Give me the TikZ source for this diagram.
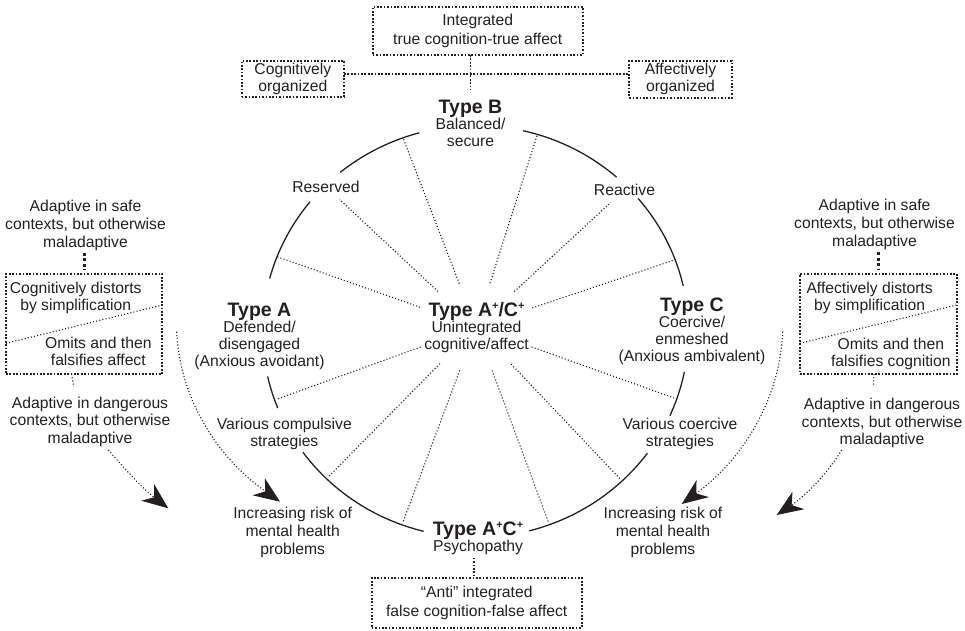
\documentclass[tikz,border=0pt]{standalone}
\usepackage{fontspec}
\setmainfont{Liberation Sans}
\usetikzlibrary{arrows.meta,shapes.geometric}
\definecolor{ink}{HTML}{231F20}
\newcommand\hdfont{\fontsize{19.5}{17}\selectfont\bfseries}
% small raised plus sign used in the type names
\newcommand\plussup{\raisebox{7.3pt}{\fontsize{11}{11}\selectfont +}}
% one piece of the outer ring (angles measured counter-clockwise, y pointing down)
\newcommand\ringarc[2]{\draw[ring] plot[domain=#1:#2, samples=48, variable=\t]
  ({475.5+213*cos(\t)},{331.5-206*sin(\t)});}
\begin{document}
\begin{tikzpicture}[x=1pt, y=-1pt,
  every node/.style={inner sep=0pt, outer sep=0pt, text=ink},
  lbl/.style={align=center, font=\fontsize{15.7}{17}\selectfont},
  dbox/.style={lbl, draw=ink, line width=1.7pt, dash pattern=on 1.7pt off 1.7pt},
  ring/.style={draw=ink, line width=1.3pt},
  spoke/.style={draw=ink, line width=1.1pt, dash pattern=on 1.1pt off 2.1pt},
  boxline/.style={draw=ink, line width=1.7pt, dash pattern=on 1.7pt off 1.7pt},
  heavydot/.style={draw=ink, line width=3pt, dash pattern=on 3pt off 2.6pt},
  dart/.style={-{Stealth[length=26pt, width=21pt, inset=8pt]}},
]
\useasboundingbox (0,0) rectangle (965,630);

% ---------- top: organisation boxes ----------
\node[dbox, minimum width=210, minimum height=48.3, font=\fontsize{15.7}{19.5}\selectfont]
  (integ) at (477.7,30.85) {Integrated\\true cognition-true affect};
\node[dbox, minimum width=102.3, minimum height=36] (cogorg) at (292.85,78.7) {Cognitively\\organized};
\node[dbox, minimum width=102.4, minimum height=37] (afforg) at (680.5,79.3) {Affectively\\organized};
\node[lbl, anchor=north] (typeB) at (470.5,100) {{\hdfont Type B}\\[-1pt]Balanced/\\secure};

\draw[boxline] ([yshift=4.7pt]cogorg.east) -- ([yshift=5.3pt]afforg.west);
\draw[boxline] (integ.south -| typeB.north) -- ([yshift=10pt]typeB.north);

% ---------- ring labels ----------
\node[lbl, inner sep=7pt] (reserved) at (326,186.7) {Reserved};
\node[lbl, inner sep=7pt] (reactive) at (624.5,189.7) {Reactive};
\node[lbl, anchor=north] (typeA) at (259.5,302.7)
  {{\hdfont Type A}\\[-1pt]Defended/\\disengaged\\(Anxious avoidant)};
\node[lbl, anchor=north] (typeC) at (692,298.3)
  {{\hdfont Type C}\\[-1pt]Coercive/\\enmeshed\\(Anxious ambivalent)};
\node[lbl, anchor=north] (mixed) at (476.5,302.7)
  {{\hdfont Type A\plussup/C\plussup}\\[-1pt]Unintegrated\\cognitive/affect};
\node[lbl, anchor=north] (compul) at (284.3,418.3) {Various compulsive\\strategies};
\node[lbl, anchor=north] (coerc) at (680,418.3) {Various coercive\\strategies};
\node[lbl, anchor=north, font=\fontsize{15.7}{18}\selectfont] (riskL) at (292.7,506.7)
  {Increasing risk of\\mental health\\problems};
\node[lbl, anchor=north, font=\fontsize{15.7}{18}\selectfont] (riskR) at (663,506.7)
  {Increasing risk of\\mental health\\problems};
\node[lbl, anchor=north] (typeAC) at (478,521.7)
  {{\hdfont Type A\plussup C\plussup}\\[-1pt]Psychopathy};

% ---------- ring ----------
\ringarc{105.3}{129.4}
\ringarc{141}{165.1}
\ringarc{192.6}{201.8}
\ringarc{215.9}{255.9}
\ringarc{284.6}{323.8}
\ringarc{335.9}{348.7}
\ringarc{12.8}{40.2}
\ringarc{48.5}{77.1}

% ---------- spokes from the centre ----------
\node[ellipse, minimum width=124, minimum height=90] (hub) at (476,327) {};
\foreach \ang/\nm/\f in {20.4/o1/1, 73.1/o2/1, 109.9/o3/1, 158.7/o4/1,
    -19.1/o5/0.985, -46.5/o6/0.985, -69.7/o7/0.985, -110.2/o8/0.985,
    -134.4/o9/0.985, -160.6/o10/0.985}
  \coordinate (\nm) at ({475.5+\f*213*cos(\ang)},{331.5-\f*206*sin(\ang)});
\foreach \nm in {o1,o2,o3,o4,o5,o6,o7,o8,o9,o10}
  \draw[spoke] (hub) -- (\nm);
\draw[spoke] (hub) -- (reserved);
\draw[spoke] (hub) -- (reactive);

% ---------- bottom box ----------
\node[dbox, minimum width=210, minimum height=49.7, font=\fontsize{15.7}{19.5}\selectfont]
  (anti) at (476.7,602.85) {“Anti” integrated\\false cognition-false affect};
\coordinate (acx) at ([xshift=-4pt,yshift=-3pt]typeAC.south);
\draw[boxline] (acx) -- (acx |- anti.north);

% ---------- left column ----------
\node[lbl, anchor=north, font=\fontsize{15.7}{18}\selectfont] (lsafe) at (85.5,200)
  {Adaptive in safe\\contexts, but otherwise\\maladaptive};
\node[dbox, minimum width=156.3, minimum height=100] (lbox) at (84.15,324) {};
\node[lbl, anchor=north] (lcog) at (75.7,281.7) {Cognitively distorts\\by simplification};
\node[lbl, anchor=north] (lomit) at (98.3,337.3) {Omits and then\\falsifies affect};
\node[lbl, anchor=north, font=\fontsize{15.7}{17.5}\selectfont] (ldanger) at (90,396.7)
  {Adaptive in dangerous\\contexts, but otherwise\\maladaptive};
\draw[heavydot, shorten <=2pt, shorten >=4.5pt] (lbox.north |- lsafe.south) -- (lbox.north);
\draw[spoke] ([yshift=-19.3pt]lbox.west) -- ([yshift=19pt]lbox.east);
\draw[spoke, shorten >=10pt] ([xshift=-12.5pt]lbox.south) -- ([xshift=-15pt]ldanger.north);

% ---------- right column ----------
\node[lbl, anchor=north, font=\fontsize{15.7}{18}\selectfont] (rsafe) at (874.5,199.3)
  {Adaptive in safe\\contexts, but otherwise\\maladaptive};
\node[dbox, minimum width=156.7, minimum height=100] (rbox) at (878.35,324) {};
\node[lbl, anchor=north] (raff) at (869.6,281.7) {Affectively distorts\\by simplification};
\node[lbl, anchor=north] (romit) at (890.8,338.3) {Omits and then\\falsifies cognition};
\node[lbl, anchor=north, font=\fontsize{15.7}{17.5}\selectfont] (rdanger) at (882,398.3)
  {Adaptive in dangerous\\contexts, but otherwise\\maladaptive};
\draw[heavydot, shorten <=2pt, shorten >=4.5pt] (rbox.north |- rsafe.south) -- (rbox.north);
\draw[spoke] ([yshift=-19.3pt]rbox.west) -- ([yshift=19pt]rbox.east);
\draw[spoke, shorten >=11.6pt] ([xshift=-4.3pt]rbox.south) -- ([xshift=-9.3pt]rdanger.north);

% ---------- curved arrows ----------
\coordinate (ia1) at (176.7,331.7); \coordinate (ia2) at (280,501.7);
\draw[spoke, dart] (ia1) .. controls (180,400) and (218,458) .. (ia2);
\coordinate (ib1) at (782.7,331.7); \coordinate (ib2) at (681.7,504);
\draw[spoke, dart] (ib1) .. controls (780,400) and (742,460) .. (ib2);
\coordinate (oa1) at (108.3,450); \coordinate (oa2) at (168.3,508.3);
\draw[spoke, dart] (oa1) .. controls (124,468) and (142,488) .. (oa2);
\coordinate (ob1) at (841.7,450); \coordinate (ob2) at (776.7,515);
\draw[spoke, dart] (ob1) .. controls (828,472) and (808,494) .. (ob2);
\end{tikzpicture}
\end{document}
